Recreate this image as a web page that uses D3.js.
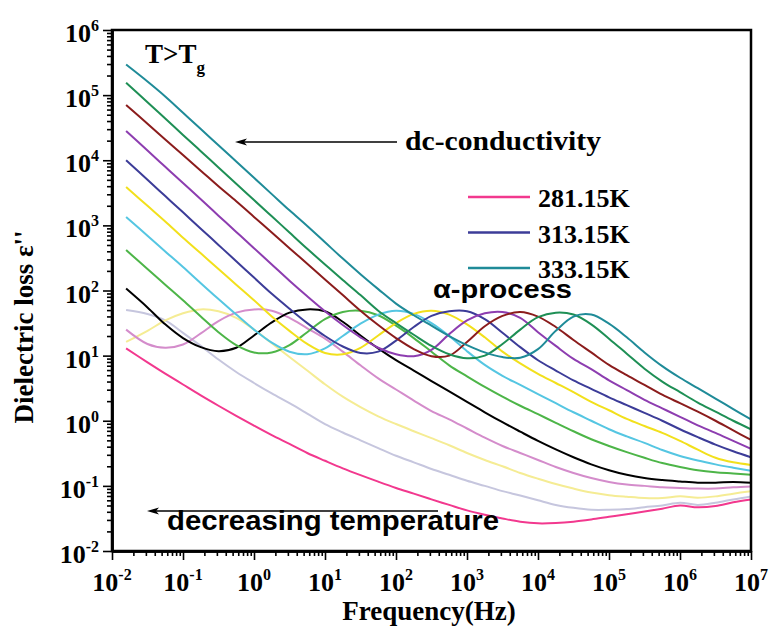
<!DOCTYPE html>
<html>
<head>
<meta charset="utf-8">
<script src="https://cdn.jsdelivr.net/npm/d3@7"></script>
<style>
body { margin: 0; background: #fff; }
svg { display: block; }
.serif { font-family: "Liberation Serif", "Times New Roman", serif; font-weight: bold; }
.sans { font-family: "Liberation Sans", Arial, sans-serif; font-weight: bold; }
.axis path, .axis line { stroke: #000; }
</style>
</head>
<body>
<svg width="770" height="629"></svg>
<script>
// frequency grid (Hz), quarter decades
var freq = [0.0158, 0.0316, 0.0562, 0.1, 0.178, 0.316, 0.562, 1, 1.78, 3.16, 5.62,
    10, 17.8, 31.6, 56.2, 100, 178, 316, 562, 1e3, 1780, 3160, 5620, 1e4, 17800, 31600, 56200,
    1e5, 1.78e5, 3.16e5, 5.62e5, 1e6, 1.78e6, 3.16e6, 5.62e6, 1e7];

// dielectric loss, lowest temperature first
var eps01 = [12.9, 7.9, 5.3, 3.6, 2.45, 1.7, 1.19, 0.84, 0.60, 0.44, 0.32, 0.243, 0.186, 0.146, 0.116, 0.093, 0.076, 0.062,
    0.051, 0.042, 0.036, 0.0316, 0.0282, 0.0266, 0.0269, 0.0282, 0.0305, 0.0335, 0.0367, 0.0403, 0.0447, 0.050, 0.0468, 0.049, 0.056, 0.062];
var eps02 = [50, 43.6, 34.7, 22.4, 14.1, 8.7, 5.6, 3.8, 2.63, 1.86, 1.29, 0.89, 0.66, 0.50, 0.38, 0.29, 0.23, 0.182,
    0.148, 0.120, 0.100, 0.083, 0.071, 0.060, 0.051, 0.046, 0.043, 0.043, 0.044, 0.047, 0.050, 0.055, 0.051, 0.055, 0.062, 0.069];
var eps03 = [16.2, 24, 34.7, 44.7, 51.3, 47.9, 38, 25.1, 15.5, 9.5, 5.9, 3.63, 2.34, 1.62, 1.17, 0.89, 0.69, 0.54,
    0.42, 0.32, 0.25, 0.20, 0.158, 0.129, 0.107, 0.091, 0.079, 0.072, 0.068, 0.065, 0.065, 0.069, 0.066, 0.069, 0.076, 0.083];
var eps04 = [25.1, 15.1, 13.2, 14.8, 21.9, 33.9, 45.7, 51.3, 49, 38, 26.3, 18.2, 11.5, 7.1, 4.47, 3.02, 2.04, 1.41,
    1.05, 0.76, 0.55, 0.41, 0.32, 0.25, 0.195, 0.158, 0.132, 0.115, 0.105, 0.100, 0.095, 0.093, 0.091, 0.091, 0.095, 0.098];
var eps05 = [107, 55, 30.2, 18.6, 13.5, 11.7, 13.2, 20.4, 32.4, 45.7, 51.3, 47.9, 33.1, 20.4, 12.9, 8.5, 5.9, 4.07,
    2.82, 1.95, 1.35, 0.95, 0.68, 0.49, 0.363, 0.275, 0.214, 0.174, 0.148, 0.132, 0.123, 0.117, 0.112, 0.112, 0.115, 0.112];
var eps06 = [417, 214, 123, 70.8, 39.8, 22.9, 14.5, 11.2, 11.2, 14.5, 22.9, 36.3, 46.8, 49, 41.7, 28.8, 18.6, 11.5,
    7.1, 4.8, 3.3, 2.34, 1.70, 1.26, 0.93, 0.69, 0.52, 0.41, 0.33, 0.27, 0.224, 0.195, 0.174, 0.162, 0.155, 0.148];
var eps07 = [1349, 692, 398, 229, 129, 74, 42.7, 25.1, 15.8, 11.5, 10.5, 12.9, 20, 30.9, 42.7, 49, 43.7, 31.6,
    20, 11.7, 7.2, 4.9, 3.55, 2.57, 1.86, 1.35, 1.0, 0.74, 0.575, 0.457, 0.355, 0.288, 0.245, 0.214, 0.19, 0.17];
var eps08 = [3890, 1995, 1148, 646, 372, 214, 123, 70.8, 39.8, 24, 15.1, 11, 10.5, 13.2, 20.4, 31.6, 43.7, 49,
    42.7, 30.2, 19.1, 11.5, 7.6, 5.25, 3.8, 2.75, 1.95, 1.45, 1.07, 0.83, 0.65, 0.49, 0.36, 0.27, 0.23, 0.21];
var eps09 = [10000, 5012, 2818, 1585, 891, 501, 282, 158, 89, 52.5, 31.6, 20, 13.8, 11, 11.5, 17, 27.5, 40.7,
    47.9, 47.9, 36.3, 22.4, 13.5, 8.5, 5.9, 4.17, 3.09, 2.29, 1.74, 1.32, 1.0, 0.74, 0.56, 0.43, 0.34, 0.275];
var eps10 = [28200, 14100, 7940, 4470, 2510, 1410, 794, 447, 251, 141, 81.3, 47.9, 29.5, 19.1, 13.2, 10.5, 9.8, 12.3,
    21.4, 34.7, 44.7, 46.8, 38, 22.9, 14.1, 8.9, 6.2, 4.17, 2.95, 2.09, 1.55, 1.15, 0.85, 0.65, 0.49, 0.37];
var eps11 = [70800, 36300, 20900, 12000, 6920, 3980, 2340, 1350, 776, 447, 257, 148, 85.1, 49, 29.5, 18.6, 12.6, 9.8,
    10, 16.2, 28.2, 40.7, 46.8, 39.8, 27.5, 17.4, 11.2, 7.2, 5.0, 3.55, 2.51, 1.86, 1.38, 1.0, 0.71, 0.51];
var eps12 = [155000, 77600, 43700, 24500, 13800, 7760, 4370, 2450, 1380, 776, 437, 251, 145, 85.1, 49, 31.6, 20.9, 14.1,
    10.5, 9.1, 10, 15.1, 25.1, 38.9, 45.7, 42.7, 30.2, 18.2, 10.7, 6.3, 4.0, 2.75, 1.9, 1.38, 1.0, 0.74];
var eps13 = [295000, 162000, 95500, 53700, 30200, 17000, 9550, 5370, 3020, 1700, 977, 550, 309, 178, 105, 63, 41.7, 28.8,
    20, 14.5, 11.2, 9.5, 9.3, 12.6, 24, 39.8, 42.7, 30.9, 19.1, 11.2, 6.9, 4.57, 3.16, 2.19, 1.51, 1.05];

var colors = ["#f2388e", "#c6c6de", "#f5ec94", "#d48ccb", "#000000", "#4db548",
    "#55c6e2", "#f2e01c", "#3c3c98", "#8d3db0", "#8b1c1c", "#1e8f55", "#1f8b98"];

var legendNames = ["281.15K", "313.15K", "333.15K"];
var legendIndex = [0, 8, 12];

var xExp = [-2, -1, 0, 1, 2, 3, 4, 5, 6, 7];
var yExp = [-2, -1, 0, 1, 2, 3, 4, 5, 6];

var svg = d3.select("svg"),
    margin = {top: 30, right: 19, bottom: 78, left: 112},
    width = +svg.attr("width") - margin.left - margin.right,
    height = +svg.attr("height") - margin.top - margin.bottom,
    g = svg.append("g").attr("transform", "translate(" + margin.left + "," + margin.top + ")");

var x = d3.scaleLog().domain([1e-2, 1e7]).range([0, width]),
    y = d3.scaleLog().domain([1e-2, 1e6]).range([height, 0]);

var allSeries = [eps01, eps02, eps03, eps04, eps05, eps06, eps07, eps08, eps09, eps10, eps11, eps12, eps13];

function minors(exps) {
    var out = [];
    exps.slice(0, -1).forEach(function(e) {
        for (var k = 2; k < 10; k++) out.push(k * Math.pow(10, e));
    });
    return out;
}
var majorX = xExp.map(function(e) { return Math.pow(10, e); }),
    majorY = yExp.map(function(e) { return Math.pow(10, e); });

g.append("defs").append("clipPath").attr("id", "clip")
    .append("rect").attr("width", width).attr("height", height);

var line = d3.line()
    .curve(d3.curveCatmullRom)
    .x(function(d) { return x(d[0]); })
    .y(function(d) { return y(d[1]); });

g.append("g").attr("clip-path", "url(#clip)")
    .selectAll("path").data(allSeries)
    .enter().append("path")
    .attr("fill", "none")
    .attr("stroke", function(d, i) { return colors[i]; })
    .attr("stroke-width", 2)
    .attr("d", function(d) { return line(d.map(function(v, i) { return [freq[i], v]; })); });

// axes
g.append("g").attr("class", "axis")
    .attr("transform", "translate(0," + height + ")")
    .call(d3.axisBottom(x).tickValues(minors(xExp)).tickSize(5).tickSizeOuter(0).tickFormat(""));
g.append("g").attr("class", "axis")
    .attr("transform", "translate(0," + height + ")")
    .call(d3.axisBottom(x).tickValues(majorX).tickSize(9).tickSizeOuter(0).tickFormat(""));
g.append("g").attr("class", "axis")
    .call(d3.axisLeft(y).tickValues(minors(yExp)).tickSize(5).tickSizeOuter(0).tickFormat(""));
g.append("g").attr("class", "axis")
    .call(d3.axisLeft(y).tickValues(majorY).tickSize(9).tickSizeOuter(0).tickFormat(""));
g.selectAll(".axis line").attr("stroke-width", 1.6);
g.selectAll(".axis path").attr("stroke-width", 2.5);

g.append("rect")
    .attr("width", width).attr("height", height)
    .attr("fill", "none").attr("stroke", "#000").attr("stroke-width", 2.5);

// tick labels 10^n
var xl = g.selectAll(".xlab").data(xExp).enter().append("text")
    .attr("class", "serif xlab")
    .attr("x", function(d) { return x(Math.pow(10, d)); })
    .attr("y", height + 40)
    .attr("text-anchor", "middle")
    .style("font-size", "26px");
xl.append("tspan").text("10");
xl.append("tspan").attr("dy", -11).style("font-size", "16px").text(function(d) { return d; });

var yl = g.selectAll(".ylab").data(yExp).enter().append("text")
    .attr("class", "serif ylab")
    .attr("x", -13)
    .attr("y", function(d) { return y(Math.pow(10, d)) + 12; })
    .attr("text-anchor", "end")
    .style("font-size", "26px");
yl.append("tspan").text("10");
yl.append("tspan").attr("dy", -11).style("font-size", "16px").text(function(d) { return d; });

// axis titles
svg.append("text").attr("class", "serif")
    .attr("transform", "translate(33,327) rotate(-90)")
    .attr("text-anchor", "middle")
    .style("font-size", "27px")
    .text("Dielectric loss \u03b5''");
svg.append("text").attr("class", "serif")
    .attr("x", 429).attr("y", 620)
    .attr("text-anchor", "middle")
    .style("font-size", "27px")
    .text("Frequency(Hz)");

// annotations
var tg = svg.append("text").attr("class", "serif")
    .attr("x", 145).attr("y", 63)
    .style("font-size", "27px");
tg.append("tspan").text("T>T");
tg.append("tspan").attr("dy", 10).style("font-size", "17px").text("g");

function arrow(x1, x2, yy) {
    svg.append("line").attr("x1", x1).attr("x2", x2 + 8).attr("y1", yy).attr("y2", yy)
        .attr("stroke", "#000").attr("stroke-width", 1.6);
    svg.append("path")
        .attr("d", "M" + x2 + "," + yy + "L" + (x2 + 12) + "," + (yy - 3.5) + "L" + (x2 + 9) + "," + yy +
            "L" + (x2 + 12) + "," + (yy + 3.5) + "Z")
        .attr("fill", "#000");
}
arrow(397, 235, 142);
arrow(438, 147, 511);

svg.append("text").attr("class", "serif")
    .attr("x", 405).attr("y", 150)
    .attr("textLength", 196).attr("lengthAdjust", "spacingAndGlyphs")
    .style("font-size", "28px")
    .text("dc-conductivity");

svg.append("text").attr("class", "sans")
    .attr("x", 433).attr("y", 298)
    .attr("textLength", 139).attr("lengthAdjust", "spacingAndGlyphs")
    .style("font-size", "26px")
    .text("\u03b1-process");

svg.append("text").attr("class", "sans")
    .attr("x", 167).attr("y", 530)
    .attr("textLength", 332).attr("lengthAdjust", "spacingAndGlyphs")
    .style("font-size", "27px")
    .text("decreasing temperature");

// legend
var leg = svg.selectAll(".leg").data(legendNames).enter().append("g")
    .attr("class", "leg")
    .attr("transform", function(d, i) { return "translate(468," + (197 + i * 35.5) + ")"; });
leg.append("line").attr("x1", 0).attr("x2", 62)
    .attr("stroke", function(d, i) { return colors[legendIndex[i]]; })
    .attr("stroke-width", 2.5);
leg.append("text").attr("class", "serif")
    .attr("x", 70).attr("y", 10)
    .style("font-size", "26px")
    .text(function(d) { return d; });
</script>
</body>
</html>
